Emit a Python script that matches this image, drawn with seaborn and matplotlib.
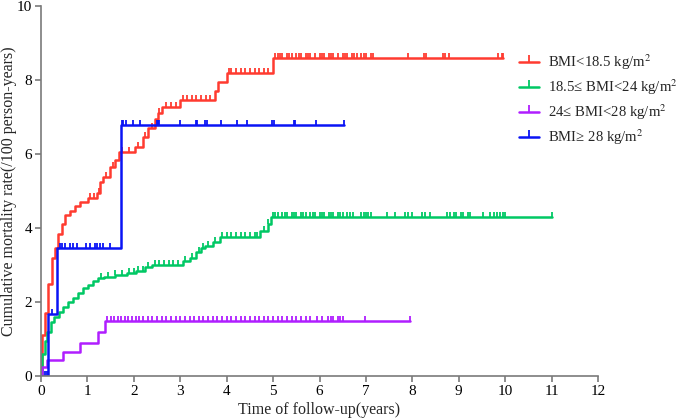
import numpy as np
import matplotlib
matplotlib.use('Agg')
import matplotlib.pyplot as plt
import seaborn as sns
from matplotlib.lines import Line2D

# step curves (time in years, cumulative rate per 100 person-years)
red_t = [0, 0.03, 0.09, 0.16, 0.23, 0.30, 0.37, 0.45, 0.52, 0.63, 0.73, 0.84, 1.02, 1.2, 1.27,
         1.34, 1.49, 1.59, 1.67, 2.03, 2.2, 2.31, 2.46, 2.52, 2.61, 3.0, 3.75, 3.81, 4.01, 5.0, 9.96]
red_v = [0, 1.1, 1.7, 2.5, 3.2, 3.45, 3.85, 4.1, 4.35, 4.45, 4.6, 4.7, 4.8, 4.95, 5.25,
         5.37, 5.65, 5.85, 6.05, 6.2, 6.45, 6.7, 6.95, 7.1, 7.28, 7.45, 7.7, 7.95, 8.2, 8.6, 8.6]
green_t = [0, 0.03, 0.08, 0.14, 0.21, 0.29, 0.38, 0.48, 0.59, 0.7, 0.8, 0.91, 1.02, 1.13, 1.23,
           1.35, 1.6, 1.85, 2.05, 2.25, 2.4, 3.07, 3.2, 3.34, 3.45, 3.53, 3.71, 3.86, 4.72, 4.89, 4.96, 11.0]
green_v = [0, 0.6, 0.95, 1.2, 1.45, 1.6, 1.74, 1.87, 2.0, 2.12, 2.24, 2.37, 2.46, 2.57, 2.64,
           2.68, 2.72, 2.78, 2.85, 2.95, 3.0, 3.1, 3.2, 3.35, 3.45, 3.52, 3.63, 3.75, 3.93, 4.1, 4.3, 4.3]
purple_t = [0, 0.02, 0.14, 0.48, 0.84, 1.23, 1.38, 7.94]
purple_v = [0, 0.25, 0.43, 0.65, 0.9, 1.2, 1.5, 1.5]
blue_t = [0, 0.15, 0.34, 1.72, 6.52]
blue_v = [0, 1.67, 3.45, 6.78, 6.78]

# censored observations
red_c = [1.05, 1.15, 1.25, 1.4, 1.55, 1.75, 1.9, 2.1, 2.25, 2.4, 2.55, 2.7, 2.8, 2.9, 3.05, 3.15,
         3.25, 3.35, 3.45, 3.55, 3.65, 4.05, 4.1, 4.2, 4.3, 4.4, 4.5, 4.6, 4.7, 4.8, 4.9, 5.05, 5.1,
         5.15, 5.2, 5.3, 5.35, 5.4, 5.5, 5.55, 5.6, 5.7, 5.75, 5.8, 5.9, 6.0, 6.05, 6.1, 6.2, 6.25,
         6.3, 6.4, 6.5, 6.55, 6.6, 6.7, 6.75, 6.8, 6.9, 6.95, 7.0, 7.1, 7.15, 7.9, 8.25, 8.3, 8.65,
         8.7, 8.8, 9.85, 9.93, 9.96]
green_c = [1.3, 1.45, 1.6, 1.75, 1.9, 2.0, 2.1, 2.2, 2.3, 2.45, 2.55, 2.65, 2.75, 2.85, 2.95, 3.1,
           3.25, 3.4, 3.5, 3.6, 3.75, 3.9, 4.0, 4.1, 4.2, 4.3, 4.4, 4.5, 4.6, 4.65, 4.8, 4.9, 5.0,
           5.05, 5.1, 5.2, 5.25, 5.3, 5.4, 5.45, 5.5, 5.6, 5.65, 5.7, 5.8, 5.85, 5.9, 6.0, 6.05, 6.1,
           6.2, 6.25, 6.3, 6.4, 6.45, 6.5, 6.6, 6.65, 6.73, 6.9, 6.95, 7.0, 7.05, 7.1, 7.45, 7.62,
           7.85, 7.9, 8.0, 8.2, 8.28, 8.38, 8.75, 8.82, 8.9, 8.95, 9.05, 9.1, 9.2, 9.25, 9.53, 9.68,
           9.75, 9.82, 9.88, 9.95, 10.0, 11.0]
purple_c = [1.42, 1.5, 1.58, 1.65, 1.72, 1.8, 1.88, 1.95, 2.05, 2.12, 2.2, 2.3, 2.4, 2.5, 2.6, 2.7,
            2.8, 2.9, 3.0, 3.1, 3.2, 3.3, 3.4, 3.5, 3.6, 3.7, 3.8, 3.9, 4.0, 4.1, 4.2, 4.3, 4.4,
            4.5, 4.6, 4.7, 4.8, 4.9, 5.0, 5.1, 5.2, 5.3, 5.4, 5.5, 5.6, 5.7, 5.8, 5.94, 6.05, 6.19,
            6.25, 6.3, 6.4, 6.45, 6.51, 6.98, 7.94]
blue_c = [0.08, 0.12, 0.23, 0.41, 0.45, 0.52, 0.63, 0.7, 0.77, 0.98, 1.06, 1.16, 1.2, 1.27, 1.34,
          1.49, 1.74, 1.77, 1.83, 1.99, 2.13, 2.49, 2.53, 2.55, 3.0, 3.34, 3.37, 3.53, 3.57, 3.87,
          4.23, 4.43, 4.98, 5.02, 5.45, 5.47, 5.93, 6.52]

labels = ['BMI<18.5 kg/m$^2$', '18.5\u2264 BMI<24 kg/m$^2$', '24\u2264 BMI<28 kg/m$^2$', 'BMI\u2265 28 kg/m$^2$']
colors = ['#FF3B30', '#00C864', '#B01EFF', '#0A14F5']

sns.set_style('ticks')
plt.rcParams['font.family'] = ['Liberation Serif', 'DejaVu Serif']
plt.rcParams['mathtext.fontset'] = 'stix'

fig = plt.figure(figsize=(6.85, 4.2), dpi=100)
ax = fig.add_axes([41 / 685, 1 - 376 / 420, 557 / 685, 370 / 420])

series = [(red_t, red_v, red_c), (green_t, green_v, green_c),
          (purple_t, purple_v, purple_c), (blue_t, blue_v, blue_c)]
for (t, v, c), col in zip(series, colors):
    sns.lineplot(x=t, y=v, drawstyle='steps-post', estimator=None, sort=False,
                 color=col, linewidth=1.8, ax=ax)
    t_arr = np.array(t)
    idx = np.searchsorted(t_arr, np.array(c), side='right') - 1
    cv = np.array(v)[np.clip(idx, 0, len(v) - 1)]
    ax.plot(c, cv, linestyle='none', marker=2, markersize=3.5, markeredgewidth=1.3, color=col)

ax.set_xlim(0, 12)
ax.set_ylim(0, 10)
ax.set_xticks(range(0, 13))
ax.set_yticks(range(0, 11, 2))
sns.despine(ax=ax)
for s in ['left', 'bottom']:
    ax.spines[s].set_color('#7a7a7a')
    ax.spines[s].set_linewidth(1.2)
ax.tick_params(colors='#7a7a7a', labelcolor='black', labelsize=11, length=4, width=1.2, pad=2.5)
ax.set_xlabel('Time of follow-up(years)', fontsize=11.5, labelpad=3)
ax.set_ylabel('Cumulative mortality rate(/100 person-years)', fontsize=11.5)
ax.yaxis.set_label_coords(-0.043, 0.5)

handles = [Line2D([0], [0], color=col, linewidth=1.8, marker=2, markersize=5, markeredgewidth=1.3)
           for col in colors]
fig.legend(handles, labels, loc='upper left', bbox_to_anchor=(507 / 685, 1 - 41 / 420),
           frameon=False, fontsize=10.6, handlelength=1.4, handletextpad=0.6,
           labelspacing=0.36, numpoints=1, borderpad=0.3)

fig.savefig('out.png', dpi=100)
